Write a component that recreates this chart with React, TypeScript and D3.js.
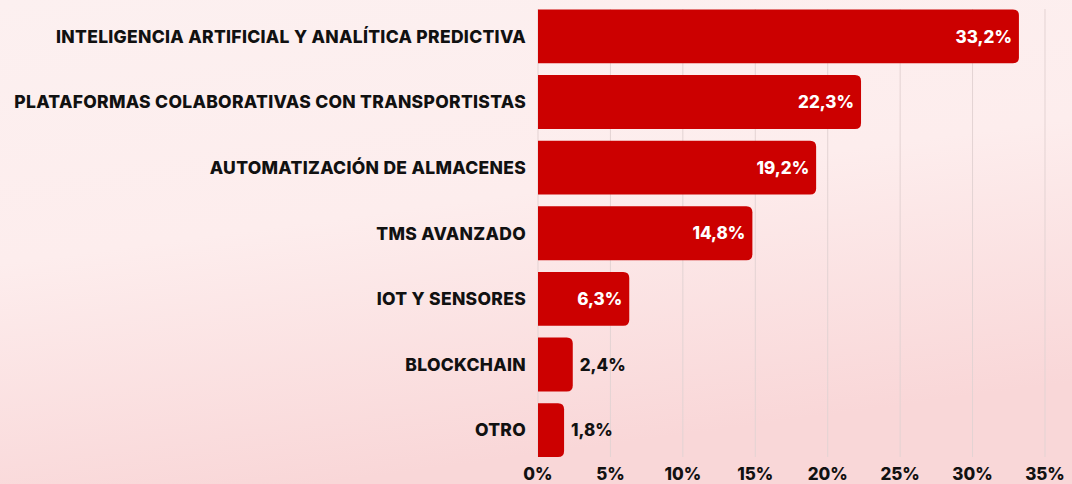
import React from "react";
import * as d3 from "d3";

const categories = [
  "INTELIGENCIA ARTIFICIAL Y ANALÍTICA PREDICTIVA",
  "PLATAFORMAS COLABORATIVAS CON TRANSPORTISTAS",
  "AUTOMATIZACIÓN DE ALMACENES",
  "TMS AVANZADO",
  "IOT Y SENSORES",
  "BLOCKCHAIN",
  "OTRO",
];
const values = [33.2, 22.3, 19.2, 14.8, 6.3, 2.4, 1.8];
const ticks = [0, 5, 10, 15, 20, 25, 30, 35];

const W = 1072;
const H = 484;
const FONT = "Inter, 'Open Sans', sans-serif";

function barPath(x0: number, y: number, w: number, h: number, r: number) {
  const rr = Math.min(r, w / 2, h / 2);
  const x1 = x0 + w;
  return `M${x0},${y}H${x1 - rr}Q${x1},${y} ${x1},${y + rr}V${y + h - rr}Q${x1},${y + h} ${x1 - rr},${y + h}H${x0}Z`;
}

export default function App() {
  const x = d3.scaleLinear().domain([0, 35]).range([538, 1045]);
  const y = d3
    .scaleBand<string>()
    .domain(categories)
    .range([3.6, 462.9])
    .paddingInner(0.18)
    .paddingOuter(0.09);
  const bw = y.bandwidth();
  const fmt = (v: number) => v.toFixed(1).replace(".", ",") + "%";

  return (
    <svg
      width={W}
      height={H}
      style={{ position: "fixed", left: 0, top: 0, display: "block" }}
      fontFamily={FONT}
    >
      <defs>
        <linearGradient id="bg" x1="0" y1="0" x2="0.3" y2="1">
          <stop offset="0" stopColor="#fcf0f0" />
          <stop offset="0.5" stopColor="#fdeded" />
          <stop offset="1" stopColor="#f9d7d8" />
        </linearGradient>
      </defs>
      <rect x={0} y={0} width={W} height={H} fill="url(#bg)" />
      {ticks.map((t) => (
        <line
          key={"g" + t}
          x1={x(t)}
          x2={x(t)}
          y1={9}
          y2={457}
          stroke="#e3d3d3"
          strokeWidth={1}
        />
      ))}
      {categories.map((c, i) => {
        const v = values[i];
        const yy = y(c)!;
        const w = x(v) - x(0);
        const inside = w > 60;
        return (
          <g key={c}>
            <path d={barPath(x(0), yy, w, bw, 6)} fill="#cc0000" />
            <text
              x={526}
              y={yy + bw / 2}
              dy="0.36em"
              textAnchor="end"
              fontSize={17.5}
              fontWeight={800}
              letterSpacing={0.3}
              fill="#111"
            >
              {c}
            </text>
            <text
              x={inside ? x(v) - 7 : x(v) + 7}
              y={yy + bw / 2}
              dy="0.36em"
              textAnchor={inside ? "end" : "start"}
              fontSize={17}
              fontWeight={800}
              fill={inside ? "#ffffff" : "#111"}
            >
              {fmt(v)}
            </text>
          </g>
        );
      })}
      {ticks.map((t) => (
        <text
          key={"t" + t}
          x={x(t)}
          y={473.5}
          dy="0.36em"
          textAnchor="middle"
          fontSize={17}
          fontWeight={800}
          fill="#111"
        >
          {t + "%"}
        </text>
      ))}
    </svg>
  );
}
